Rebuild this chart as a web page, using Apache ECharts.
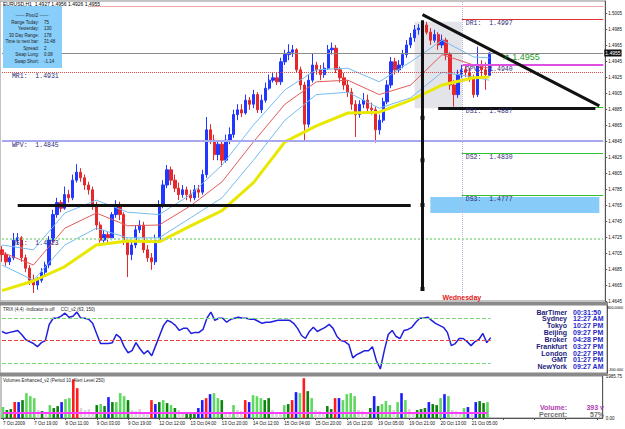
<!DOCTYPE html>
<html><head><meta charset="utf-8">
<script src="https://cdn.jsdelivr.net/npm/echarts@6/dist/echarts.min.js"></script>
<style>html,body{margin:0;padding:0;background:#fff}#c{width:625px;height:429px}</style>
</head><body><div id="c"></div>
<script>
// ---------- DATA ----------
const tickLabels = ['7 Oct 2009','7 Oct 19:00','8 Oct 11:00','9 Oct 03:00','9 Oct 19:00','12 Oct 12:00','13 Oct 04:00','13 Oct 20:00','14 Oct 12:00','15 Oct 04:00','15 Oct 20:00','16 Oct 12:00','19 Oct 05:00','19 Oct 21:00','20 Oct 13:00','21 Oct 05:00'];
const slotCount = 154; // time slots incl. right-side chart shift
// [open, close, low, high]
const candles = [
[1.4709,1.4703,1.4694,1.4714],[1.4703,1.4694,1.4689,1.4706],[1.4694,1.4699,1.4690,1.4701],[1.4699,1.4721,1.4696,1.4730],[1.4721,1.4724,1.4716,1.4730],
[1.4724,1.4699,1.4694,1.4726],[1.4699,1.4686,1.4681,1.4703],[1.4686,1.4671,1.4665,1.4690],[1.4671,1.4665,1.4655,1.4678],[1.4665,1.4671,1.4659,1.4675],
[1.4671,1.4681,1.4668,1.4686],[1.4681,1.4690,1.4676,1.4694],[1.4690,1.4721,1.4686,1.4726],[1.4721,1.4753,1.4718,1.4759],[1.4753,1.4768,1.4749,1.4774],
[1.4768,1.4761,1.4756,1.4771],[1.4761,1.4778,1.4759,1.4788],[1.4778,1.4774,1.4768,1.4784],[1.4774,1.4796,1.4771,1.4803],[1.4796,1.4806,1.4793,1.4816],
[1.4806,1.4799,1.4794,1.4811],[1.4799,1.4790,1.4784,1.4803],[1.4790,1.4784,1.4778,1.4794],[1.4784,1.4765,1.4759,1.4788],[1.4765,1.4740,1.4734,1.4769],
[1.4740,1.4721,1.4718,1.4744],[1.4721,1.4728,1.4718,1.4734],[1.4728,1.4724,1.4719,1.4731],[1.4724,1.4753,1.4721,1.4756],[1.4753,1.4765,1.4749,1.4771],
[1.4765,1.4753,1.4746,1.4769],[1.4753,1.4721,1.4715,1.4756],[1.4721,1.4703,1.4675,1.4724],[1.4703,1.4715,1.4696,1.4719],[1.4715,1.4734,1.4711,1.4740],
[1.4734,1.4740,1.4730,1.4746],[1.4740,1.4709,1.4705,1.4744],[1.4709,1.4699,1.4694,1.4715],[1.4699,1.4694,1.4684,1.4705],[1.4694,1.4721,1.4690,1.4728],
[1.4721,1.4765,1.4718,1.4771],[1.4765,1.4790,1.4761,1.4796],[1.4790,1.4809,1.4786,1.4815],[1.4809,1.4796,1.4790,1.4813],[1.4796,1.4786,1.4781,1.4803],
[1.4786,1.4778,1.4771,1.4793],[1.4778,1.4784,1.4774,1.4790],[1.4784,1.4778,1.4771,1.4788],[1.4778,1.4774,1.4769,1.4784],[1.4774,1.4784,1.4771,1.4790],
[1.4784,1.4781,1.4774,1.4790],[1.4781,1.4803,1.4778,1.4809],[1.4803,1.4859,1.4799,1.4875],[1.4859,1.4846,1.4841,1.4866],[1.4846,1.4828,1.4821,1.4853],
[1.4828,1.4841,1.4821,1.4846],[1.4841,1.4821,1.4813,1.4846],[1.4821,1.4846,1.4818,1.4853],[1.4846,1.4853,1.4841,1.4862],[1.4853,1.4878,1.4849,1.4884],
[1.4878,1.4884,1.4871,1.4891],[1.4884,1.4880,1.4875,1.4891],[1.4880,1.4896,1.4878,1.4903],[1.4896,1.4891,1.4884,1.4900],[1.4891,1.4903,1.4886,1.4909],
[1.4903,1.4884,1.4880,1.4906],[1.4884,1.4896,1.4880,1.4903],[1.4896,1.4911,1.4893,1.4918],[1.4911,1.4921,1.4909,1.4928],[1.4921,1.4924,1.4918,1.4931],
[1.4924,1.4919,1.4915,1.4930],[1.4919,1.4944,1.4915,1.4949],[1.4944,1.4953,1.4940,1.4959],[1.4953,1.4956,1.4946,1.4966],[1.4956,1.4959,1.4950,1.4965],
[1.4959,1.4934,1.4930,1.4961],[1.4934,1.4915,1.4909,1.4938],[1.4915,1.4866,1.4844,1.4919],[1.4866,1.4921,1.4862,1.4928],[1.4921,1.4940,1.4918,1.4955],
[1.4940,1.4934,1.4928,1.4944],[1.4934,1.4928,1.4921,1.4940],[1.4928,1.4936,1.4924,1.4943],[1.4936,1.4959,1.4934,1.4965],[1.4959,1.4961,1.4953,1.4968],
[1.4961,1.4934,1.4930,1.4965],[1.4934,1.4924,1.4918,1.4938],[1.4924,1.4915,1.4909,1.4930],[1.4915,1.4906,1.4900,1.4921],[1.4906,1.4891,1.4884,1.4911],
[1.4891,1.4878,1.4850,1.4896],[1.4878,1.4891,1.4874,1.4896],[1.4891,1.4896,1.4886,1.4905],[1.4896,1.4886,1.4880,1.4903],[1.4886,1.4884,1.4878,1.4893],
[1.4884,1.4859,1.4843,1.4888],[1.4859,1.4871,1.4853,1.4878],[1.4871,1.4894,1.4868,1.4899],[1.4894,1.4915,1.4891,1.4921],[1.4915,1.4944,1.4911,1.4950],
[1.4944,1.4934,1.4928,1.4949],[1.4934,1.4940,1.4930,1.4946],[1.4940,1.4953,1.4936,1.4959],[1.4953,1.4965,1.4949,1.4971],[1.4965,1.4974,1.4961,1.4980],
[1.4974,1.4984,1.4969,1.4990],[1.4984,1.4986,1.4978,1.4991],[1.4986,1.4990,1.4981,1.4994],[1.4990,1.4981,1.4978,1.4994],[1.4981,1.4971,1.4965,1.4986],
[1.4971,1.4978,1.4968,1.4984],[1.4978,1.4965,1.4959,1.4981],[1.4965,1.4971,1.4961,1.4978],[1.4971,1.4953,1.4946,1.4974],[1.4953,1.4915,1.4909,1.4956],
[1.4915,1.4903,1.4888,1.4921],[1.4903,1.4928,1.4899,1.4934],[1.4928,1.4934,1.4924,1.4940],[1.4934,1.4931,1.4925,1.4940],[1.4931,1.4924,1.4919,1.4936],
[1.4924,1.4903,1.4899,1.4928],[1.4903,1.4940,1.4900,1.4963],[1.4940,1.4934,1.4924,1.4946],[1.4934,1.4928,1.4909,1.4943],[1.4927,1.4955,1.4926,1.4956]
];
// moving averages read at every 8th slot
const maIdx    = [0,8,16,24,32,40,48,56,64,72,80,88,96,104,112,120,124];
const maYellow = [1.4658,1.4670,1.4688,1.4715,1.4720,1.4719,1.4739,1.4758,1.4793,1.4844,1.4864,1.4880,1.4881,1.4896,1.4915,1.4924,1.4925];
const maRed    = [1.4706,1.4690,1.4736,1.4755,1.4739,1.4740,1.4764,1.4794,1.4844,1.4891,1.4919,1.4921,1.4903,1.4915,1.4953,1.4940,1.4936];
const bandUp   = [1.4715,1.4709,1.4755,1.4771,1.4756,1.4753,1.4778,1.4815,1.4865,1.4909,1.4934,1.4936,1.4919,1.4944,1.4971,1.4950,1.4949];
const bandDn   = [1.4690,1.4671,1.4715,1.4736,1.4724,1.4724,1.4749,1.4774,1.4821,1.4871,1.4903,1.4906,1.4886,1.4899,1.4931,1.4925,1.4921];
// CCI_v2 indicator
const cci = [61,48,55,61,68,41,7,-7,-20,-41,
-14,0,109,150,150,164,184,157,164,191,
150,150,143,116,48,-20,-20,-20,-14,41,
20,-41,-82,-68,-14,-55,-89,-68,-102,-34,
34,102,136,123,102,68,82,82,48,55,
55,75,150,191,136,150,150,123,143,150,
157,150,150,143,143,130,116,123,123,130,
136,136,136,136,116,82,34,14,61,89,
61,75,89,109,82,27,0,-7,-27,-116,
-95,-82,-68,-68,-41,-136,-191,-68,41,68,
27,14,68,75,89,123,150,150,157,136,
116,102,89,55,-34,-20,14,14,-7,-34,
-7,7,48,-14,20];
const cciLevels = [150, 0, -150];
// volumes and their colour class (g light green, d dark green, b blue, r red, n grey)
const volumes = [517,376,423,752,752,846,1175,1034,940,376,
329,282,611,470,564,752,893,940,1833,1410,
470,376,423,282,611,658,564,987,752,752,
1175,1034,846,376,329,423,282,235,846,658,
752,846,705,611,470,376,282,235,282,235,
470,846,940,1128,1175,940,846,282,235,611,
376,329,846,752,1081,1034,940,846,940,376,
282,282,611,658,846,1222,1175,1880,1269,940,
376,329,282,564,423,940,940,846,1128,1175,
1034,376,329,282,470,1034,564,658,799,611,
376,752,1175,846,423,282,376,423,470,752,
658,611,940,1128,1034,376,329,235,470,517,
282,752,799,705,752];
const volKinds = 'gddrbdgggndngddbggrrnnnndgdbdgggdnnnnnrbdgdgdnndddbbrbggdnngnnrbgggddnnngdrbgrdgnnnddrbggggnnndbdgggngbgnndddbddgbgnnngbnbddg';
const volAlert = 250;
const volMax = 1985.75;
// pivot levels
const pivots = [
  {name:'DR1', v:1.4997, from:117},
  {name:'DPV', v:1.4940, from:117},
  {name:'MR1', v:1.4931, from:0},
  {name:'DS1', v:1.4887, from:117},
  {name:'WPV', v:1.4845, from:0},
  {name:'DS2', v:1.4830, from:117},
  {name:'DS3', v:1.4777, from:117},
  {name:'WS1', v:1.4723, from:0}
];
const topLevel = 1.5014;
const bidPrice = 1.4955;
const wednesdayIdx = 117;
// hand-drawn objects (slot index, price)
const supportLine = [[4,1.4765],[104,1.4765]];
const triLower = [[111,1.4886],[151,1.4886]];
const triUpper = [[107,1.5003],[152,1.4889]];
const vLine = [[107,1.4996],[107,1.4660]];
const vMarks = [1.4874,1.4821,1.4765,1.4660];
const greyBox = [[105,1.4994],[117,1.4886]];
const blueBox = [[109,1.4775],[152,1.4755]];
const info = [['Range Today:','75'],['Yesterday:','130'],['30 Day Range:','178'],['Time to next bar:','31:48'],['Spread:','2'],['Swap Long:','0.08'],['Swap Short:','-1.14']];
const clocks = [['BarTimer','00:31:50'],['Sydney','12:27 AM'],['Tokyo','10:27 PM'],['Beijing','09:27 PM'],['Broker','04:28 PM'],['Frankfurt','03:27 PM'],['London','02:27 PM'],['GMT','01:27 PM'],['NewYork','09:27 AM']];

// ---------- BUILD ----------
const cats = Array.from({length:slotCount},(_,i)=>String(i));
function sparse(vals){const a=new Array(candles.length).fill(null);maIdx.forEach((k,j)=>a[k]=vals[j]);return a;}
const volColors = {g:'#5ed85e',d:'#0b840b',b:'#1c1cff',r:'#ff1c1c',n:'#d6d6d6'};
const mono = 'Liberation Mono, DejaVu Sans Mono, monospace';
const sans = 'Liberation Sans, Arial, sans-serif';
const lastIdx = candles.length-1;

function pivLine(p){
  const daily = p.from===wednesdayIdx;
  let color='#e03030', type='solid', width=1;
  if(p.name==='MR1'){color='#e04848';type='dotted';}
  if(p.name==='DPV'){color='#e050e0';width=2;}
  if(p.name[1]==='S' && daily){color='#33c033';}
  if(p.name==='WPV'){color='#a8a8f0';width=2;}
  if(p.name==='WS1'){color='#a8e0a8';type='dotted';width=2;}
  return [{coord:[p.from,p.v],lineStyle:{color,type,width},
    label:{show:true,position:'insideStartBottom',distance:[daily?4:10,1],formatter:p.name+':  '+p.v.toFixed(4),
      color:'#2e2e78',fontFamily:mono,fontSize:6.5}},
    {coord:[slotCount-1,p.v]}];
}
const pivotData = pivots.map(pivLine);
pivotData.push([{coord:[wednesdayIdx,1.4845],lineStyle:{color:'#a8a8f0',type:'dotted',width:1},label:{show:false}},{coord:[slotCount-1,1.4845]}]);

const blk = {color:'#111',width:3,type:'solid'};
const markLines = [
  [{coord:[22,topLevel],lineStyle:{color:'#e05050',type:'dotted',width:1},label:{show:false}},{coord:[slotCount-1,topLevel]}],
  [{coord:[0,bidPrice],lineStyle:{color:'#8c8c8c',type:'solid',width:1},
    label:{show:true,position:'end',distance:1,formatter:bidPrice.toFixed(4),color:'#fff',backgroundColor:'#111',fontSize:5,fontFamily:sans,padding:[1,1]}},
   {coord:[slotCount-1,bidPrice]}],
  ...pivotData,
  [{coord:[wednesdayIdx,1.4645],lineStyle:{color:'#b4b4d4',type:'dotted',width:1},label:{show:false}},{coord:[wednesdayIdx,1.5020]}],
  [{coord:supportLine[0],lineStyle:blk,label:{show:false}},{coord:supportLine[1]}],
  [{coord:triLower[0],lineStyle:blk,label:{show:false}},{coord:triLower[1]}],
  [{coord:triUpper[0],lineStyle:blk,label:{show:false}},{coord:triUpper[1]}],
  [{coord:vLine[0],lineStyle:blk,label:{show:false}},{coord:vLine[1]}]
];

const volData = volumes.map((v,i)=>({value:v,itemStyle:{color:volColors[volKinds[i]]}}));

const graphics = [];
function txt(x,y,text,o){graphics.push({type:'text',left:x,top:y,silent:true,z:100,style:Object.assign({text,fill:'#000',font:'5px '+sans},o||{})});}
graphics.push({type:'rect',shape:{x:0,y:302,width:608,height:3},style:{fill:'#8a8a8a'},z:90,silent:true});
graphics.push({type:'rect',shape:{x:0,y:373,width:608,height:3},style:{fill:'#8a8a8a'},z:90,silent:true});
txt(3,1,'EURUSD,H1  1.4927 1.4956 1.4926 1.4955',{font:'5px '+sans});
graphics.push({type:'rect',shape:{x:3,y:6,width:59,height:62},style:{fill:'#87cefa'},z:95,silent:true});
graphics.push({type:'text',x:32,y:13,z:100,silent:true,style:{text:'------ Pivot2 ------',fill:'#222',font:'4.5px '+sans,textAlign:'center'}});
info.forEach((r,k)=>{
  graphics.push({type:'text',x:39,y:19.5+k*6.5,z:100,silent:true,style:{text:r[0],fill:'#222',font:'4.5px '+sans,textAlign:'right'}});
  graphics.push({type:'text',x:44,y:19.5+k*6.5,z:100,silent:true,style:{text:r[1],fill:'#222',font:'4.5px '+sans,textAlign:'left'}});
});
txt(3,307,'TRIX (4,4) -Indicator is off     CCI_v2 (63, 150)',{font:'4.5px '+sans,fill:'#222'});
txt(3,378,'Volumes Enhanced_v2 (Period 10, Alert Level 250)',{font:'4.5px '+sans,fill:'#222'});
clocks.forEach((r,k)=>{
  graphics.push({type:'text',x:567,y:308.5+k*6.85,z:100,silent:true,style:{text:r[0],fill:'#1c1c7c',font:'bold 7px '+sans,textAlign:'right'}});
  graphics.push({type:'text',x:573,y:308.5+k*6.85,z:100,silent:true,style:{text:r[1],fill:'#2727c8',font:'bold 7px '+sans,textAlign:'left'}});
});
graphics.push({type:'text',x:567,y:404,z:100,silent:true,style:{text:'Volume:',fill:'#b03cb0',font:'bold 7px '+sans,textAlign:'right'}});
graphics.push({type:'text',x:604,y:404,z:100,silent:true,style:{text:'393 v',fill:'#b03cb0',font:'bold 7px '+sans,textAlign:'right'}});
graphics.push({type:'text',x:567,y:411,z:100,silent:true,style:{text:'Percent:',fill:'#707070',font:'bold 7px '+sans,textAlign:'right'}});
graphics.push({type:'text',x:604,y:411,z:100,silent:true,style:{text:'57%',fill:'#707070',font:'bold 7px '+sans,textAlign:'right'}});
graphics.push({type:'text',x:623,y:306,z:100,silent:true,style:{text:'300.0000',fill:'#000',font:'3.8px '+sans,textAlign:'right'}});
graphics.push({type:'text',x:623,y:368,z:100,silent:true,style:{text:'-300.000',fill:'#000',font:'3.8px '+sans,textAlign:'right'}});

const gridL = 0, gridW = 607;
const option = {
  animation:false,
  backgroundColor:'#fff',
  grid:[
    {left:gridL,width:gridW,top:1,height:300,show:true,borderColor:'#888',borderWidth:1},
    {left:gridL,width:gridW,top:305,height:68,show:true,borderColor:'#888',borderWidth:1},
    {left:gridL,width:gridW,top:376,height:42,show:true,borderColor:'#888',borderWidth:1}
  ],
  xAxis:[
    {type:'category',data:cats,gridIndex:0,axisLine:{show:false},axisTick:{show:false},axisLabel:{show:false}},
    {type:'category',data:cats,gridIndex:1,axisLine:{show:false},axisTick:{show:false},axisLabel:{show:false}},
    {type:'category',data:cats,gridIndex:2,axisLine:{lineStyle:{color:'#555'}},
      axisTick:{show:true,interval:7,alignWithLabel:true,length:2,lineStyle:{color:'#555'}},
      axisLabel:{interval:7,align:'left',margin:3,fontSize:4.5,fontFamily:sans,color:'#111',
        formatter:(v,i)=> (i%8===0 && tickLabels[i/8]) ? tickLabels[i/8] : ''}}
  ],
  yAxis:[
    {type:'value',gridIndex:0,position:'right',min:1.4645,max:1.5020,interval:0.002,
      axisLine:{show:true,lineStyle:{color:'#555'}},axisTick:{show:true,length:2,lineStyle:{color:'#555'}},
      splitLine:{show:false},
      axisLabel:{showMaxLabel:false,margin:3,fontSize:4.5,fontFamily:sans,color:'#111',formatter:v=>v.toFixed(4)}},
    {type:'value',gridIndex:1,position:'right',min:-218,max:239,
      axisLine:{show:true,lineStyle:{color:'#555'}},axisTick:{show:false},splitLine:{show:false},axisLabel:{show:false}},
    {type:'value',gridIndex:2,position:'right',min:0,max:volMax,interval:volMax,
      axisLine:{show:true,lineStyle:{color:'#555'}},axisTick:{show:false},splitLine:{show:false},
      axisLabel:{margin:3,fontSize:4.5,fontFamily:sans,color:'#111',formatter:v=>v>0?v.toFixed(2):'0.00'}}
  ],
  series:[
    {type:'line',xAxisIndex:0,yAxisIndex:0,data:[],z:1,silent:true,
      markArea:{silent:true,data:[
        [{coord:greyBox[0],itemStyle:{color:'#e3e3ea'}},{coord:greyBox[1]}],
        [{coord:blueBox[0],itemStyle:{color:'#87cbf8'}},{coord:blueBox[1]}]
      ]}},
    {type:'candlestick',xAxisIndex:0,yAxisIndex:0,data:candles,z:2,barWidth:2.8,
      itemStyle:{color:'#2038ff',color0:'#e4282c',borderColor:'#2038ff',borderColor0:'#e4282c',borderWidth:1}},
    {type:'line',xAxisIndex:0,yAxisIndex:0,data:sparse(bandUp),connectNulls:true,symbol:'none',z:3,lineStyle:{color:'#74bcf0',width:1}},
    {type:'line',xAxisIndex:0,yAxisIndex:0,data:sparse(bandDn),connectNulls:true,symbol:'none',z:3,lineStyle:{color:'#74bcf0',width:1}},
    {type:'line',xAxisIndex:0,yAxisIndex:0,data:sparse(maRed),connectNulls:true,symbol:'none',z:3,lineStyle:{color:'#e05a5a',width:1}},
    {type:'line',xAxisIndex:0,yAxisIndex:0,data:sparse(maYellow),connectNulls:true,symbol:'none',z:3,lineStyle:{color:'#e8e800',width:3}},
    {type:'line',xAxisIndex:0,yAxisIndex:0,data:[],z:5,silent:true,
      markLine:{silent:true,symbol:'none',animation:false,data:markLines},
      markPoint:{silent:true,animation:false,data:[
        ...vMarks.map(v=>({coord:[vLine[0][0],v],symbol:'rect',symbolSize:4,itemStyle:{color:'#111'},label:{show:false}})),
        {coord:[wednesdayIdx,1.4650],symbol:'rect',symbolSize:0,label:{show:true,position:'inside',formatter:'Wednesday',color:'#e02020',fontWeight:'bold',fontSize:7,fontFamily:sans}},
        {coord:[132,1.4950],symbol:'rect',symbolSize:0,label:{show:true,position:'inside',formatter:'\u2197 1.4955',color:'#1f9a1f',fontSize:9,fontFamily:sans}}
      ]}},
    {type:'line',xAxisIndex:1,yAxisIndex:1,data:cci,symbol:'none',z:3,lineStyle:{color:'#1f1fe0',width:1.5},
      markLine:{silent:true,symbol:'none',animation:false,data:cciLevels.map(l=>[
        {coord:[0,l],lineStyle:{color:l===0?'#e04040':'#7ad87a',type:'dashed',width:1},label:{show:false}},{coord:[lastIdx,l]}])}},
    {type:'line',xAxisIndex:2,yAxisIndex:2,data:[],z:1,silent:true,
      markLine:{silent:true,symbol:'none',animation:false,data:[[{coord:[0,volAlert],lineStyle:{color:'#ff3cff',width:2,type:'solid'},label:{show:false}},{coord:[lastIdx,volAlert]}]]}},
    {type:'bar',xAxisIndex:2,yAxisIndex:2,data:volData,barWidth:2.6,z:2}
  ],
  graphic:graphics
};
const chart = echarts.init(document.getElementById('c'),null,{renderer:'svg'});
chart.setOption(option);
</script>
</body></html>
